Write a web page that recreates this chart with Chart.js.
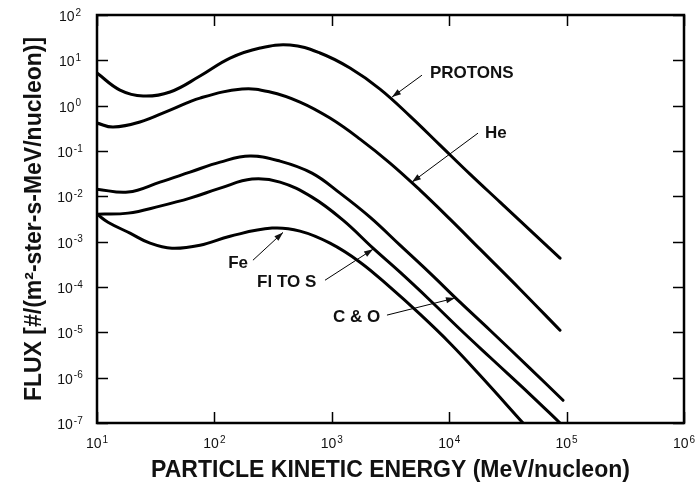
<!DOCTYPE html>
<html lang="en">
<head>
    <meta charset="UTF-8">
    <title>Particle Flux vs Kinetic Energy</title>
    <style>
        body {
            margin: 0;
            background: #fff;
        }
        #wrap {
            width: 699px;
            height: 487px;
        }
    </style>
    <script src="https://cdn.jsdelivr.net/npm/chart.js"></script>
</head>
<body>

<div id="wrap"><canvas id="fluxChart"></canvas></div>

<script>
    // Energy (MeV/nucleon) and flux
    const protonE = [10, 15.7, 24.7, 41.9, 75.4, 136, 245, 441, 793, 1429, 2574, 4636, 8350, 15040, 27090, 48770, 87900];
    const protonF = [5.24, 2.21, 1.63, 2.0, 4.5, 11.2, 18.7, 21.8, 14.5, 6.76, 2.32, 0.589, 0.135, 0.0309, 7.45e-3, 1.79e-3, 4.32e-4];

    const heE = [10, 13.7, 23.2, 41.9, 75.4, 172, 298, 536, 965, 1739, 3131, 5639, 10160, 18300, 40100, 87900];
    const heF = [0.413, 0.337, 0.435, 0.8, 1.47, 2.32, 2.0, 1.2, 0.532, 0.183, 0.0541, 0.0137, 3.14e-3, 6.83e-4, 8.94e-5, 1.11e-5];

    const coE = [10, 18.4, 34.4, 62, 112, 201, 362, 678, 1175, 2115, 3810, 6862, 12360, 22260, 48770, 93200];
    const coF = [0.0144, 0.0124, 0.0206, 0.0342, 0.0569, 0.0772, 0.0598, 0.0325, 0.01176, 3.47e-3, 8.37e-4, 2.02e-4, 4.62e-5, 1.11e-5, 1.61e-6, 3.17e-7];

    const flsE = [10, 18.4, 34.4, 62, 112, 209, 362, 678, 1246, 2244, 3810, 6862, 12360, 22260, 48770, 87900];
    const flsF = [4.05e-3, 4.26e-3, 6.08e-3, 9.12e-3, 0.0152, 0.024, 0.0206, 9.6e-3, 2.98e-3, 7.19e-4, 2.12e-4, 5.11e-5, 1.17e-5, 2.82e-6, 4.3e-7, 1e-7];

    const feE = [10, 12.4, 19.1, 28.3, 43.5, 75.4, 136, 310, 536, 965, 1739, 3131, 5639, 10160, 18300, 42530];
    const feF = [4.05e-3, 2.69e-3, 1.54e-3, 9.27e-4, 7.19e-4, 8.37e-4, 1.32e-3, 1.99e-3, 1.71e-3, 9.27e-4, 3.53e-4, 9.9e-5, 2.51e-5, 5.75e-6, 1.13e-6, 1e-7];

    // Decade ticks and their exponent labels
    const xTicks = [1e1, 1e2, 1e3, 1e4, 1e5, 1e6];
    const xExps = ['1', '2', '3', '4', '5', '6'];
    const yTicks = [1e2, 1e1, 1e0, 1e-1, 1e-2, 1e-3, 1e-4, 1e-5, 1e-6, 1e-7];
    const yExps = ['2', '1', '0', '-1', '-2', '-3', '-4', '-5', '-6', '-7'];

    // Curve labels with leader arrows (energy, flux)
    const notes = [
        { text: 'PROTONS', at: [6850, 5.2], from: [5860, 4.7], to: [3260, 1.55] },
        { text: 'He', at: [20200, 0.248], from: [17600, 0.248], to: [4820, 0.0206] },
        { text: 'C & O', at: [1024, 2.15e-5], from: [2950, 2.4e-5], to: [11200, 5.7e-5] },
        { text: 'Fl TO S', at: [231, 1.28e-4], from: [875, 1.41e-4], to: [2245, 6.8e-4] },
        { text: 'Fe', at: [131, 3.35e-4], from: [213, 3.9e-4], to: [384, 1.6e-3] }
    ];

    const FONT = '"Liberation Sans", Arial, Helvetica, sans-serif';

    function toPoints(xs, ys) {
        return xs.map((x, i) => ({ x: x, y: ys[i] }));
    }

    function curve(label, xs, ys) {
        return {
            label: label,
            data: toPoints(xs, ys),
            borderColor: '#000',
            borderWidth: 3,
            borderCapStyle: 'round',
            borderJoinStyle: 'round',
            pointRadius: 0,
            fill: false,
            tension: 0.4
        };
    }

    function drawPow(ctx, exp, cx, cy) {
        ctx.font = '14px ' + FONT;
        const bw = ctx.measureText('10').width;
        ctx.font = '10px ' + FONT;
        const ew = ctx.measureText(exp).width;
        const left = cx - (bw + ew + 1) / 2;
        ctx.textAlign = 'left';
        ctx.textBaseline = 'middle';
        ctx.font = '14px ' + FONT;
        ctx.fillText('10', left, cy + 2);
        ctx.font = '10px ' + FONT;
        ctx.fillText(exp, left + bw + 1, cy - 2);
    }

    // Frame, inward ticks, tick labels and arrow notes
    const decorPlugin = {
        id: 'decor',
        afterDraw(chart) {
            const ctx = chart.ctx;
            const a = chart.chartArea;
            const xs = chart.scales.x;
            const ys = chart.scales.y;
            const tl = 11;
            ctx.save();
            ctx.strokeStyle = '#000';
            ctx.lineWidth = 1.5;
            ctx.beginPath();
            xTicks.forEach(v => {
                const px = Math.round(xs.getPixelForValue(v)) + 0.5;
                ctx.moveTo(px, a.bottom); ctx.lineTo(px, a.bottom - tl);
                ctx.moveTo(px, a.top); ctx.lineTo(px, a.top + tl);
            });
            yTicks.forEach(v => {
                const py = Math.round(ys.getPixelForValue(v)) + 0.5;
                ctx.moveTo(a.left, py); ctx.lineTo(a.left + tl, py);
                ctx.moveTo(a.right, py); ctx.lineTo(a.right - tl, py);
            });
            ctx.stroke();

            ctx.lineWidth = 2.5;
            ctx.strokeRect(a.left, a.top, a.right - a.left, a.bottom - a.top);

            ctx.fillStyle = '#111';
            xTicks.forEach((v, i) => drawPow(ctx, xExps[i], xs.getPixelForValue(v), a.bottom + 19));
            yTicks.forEach((v, i) => drawPow(ctx, yExps[i], a.left - 27, ys.getPixelForValue(v)));

            // notes
            ctx.lineWidth = 1;
            ctx.font = 'bold 17px ' + FONT;
            ctx.textAlign = 'left';
            ctx.textBaseline = 'middle';
            notes.forEach(n => {
                const tx = xs.getPixelForValue(n.at[0]);
                const ty = ys.getPixelForValue(n.at[1]);
                const fx = xs.getPixelForValue(n.from[0]);
                const fy = ys.getPixelForValue(n.from[1]);
                const px = xs.getPixelForValue(n.to[0]);
                const py = ys.getPixelForValue(n.to[1]);
                ctx.fillText(n.text, tx, ty);
                ctx.beginPath();
                ctx.moveTo(fx, fy);
                ctx.lineTo(px, py);
                ctx.stroke();
                const ang = Math.atan2(py - fy, px - fx);
                const len = 9, hw = 3;
                ctx.beginPath();
                ctx.moveTo(px, py);
                ctx.lineTo(px - len * Math.cos(ang) + hw * Math.sin(ang), py - len * Math.sin(ang) - hw * Math.cos(ang));
                ctx.lineTo(px - len * Math.cos(ang) - hw * Math.sin(ang), py - len * Math.sin(ang) + hw * Math.cos(ang));
                ctx.closePath();
                ctx.fill();
            });
            ctx.restore();
        }
    };

    const ctx = document.getElementById('fluxChart').getContext('2d');
    const fluxChart = new Chart(ctx, {
        type: 'line',
        data: {
            datasets: [
                curve('PROTONS', protonE, protonF),
                curve('He', heE, heF),
                curve('C & O', coE, coF),
                curve('Fl TO S', flsE, flsF),
                curve('Fe', feE, feF)
            ]
        },
        options: {
            responsive: true,
            maintainAspectRatio: false,
            animation: false,
            layout: { padding: { top: 15, right: 15, left: 0, bottom: 0 } },
            plugins: {
                legend: { display: false },
                tooltip: { enabled: false }
            },
            scales: {
                x: {
                    type: 'logarithmic',
                    min: 10,
                    max: 1e6,
                    afterBuildTicks: s => { s.ticks = xTicks.map(v => ({ value: v })); },
                    afterFit: s => { s.height = 64; },
                    ticks: { display: false },
                    grid: { display: false },
                    border: { display: false },
                    title: {
                        display: true,
                        text: 'PARTICLE KINETIC ENERGY (MeV/nucleon)',
                        color: '#111',
                        font: { family: FONT, size: 23, weight: 'bold' },
                        padding: { top: 0, bottom: 3 }
                    }
                },
                y: {
                    type: 'logarithmic',
                    min: 1e-7,
                    max: 100,
                    afterBuildTicks: s => { s.ticks = yTicks.map(v => ({ value: v })); },
                    afterFit: s => { s.width = 97; },
                    ticks: { display: false },
                    grid: { display: false },
                    border: { display: false },
                    title: {
                        display: true,
                        text: 'FLUX [#/(m²-ster-s-MeV/nucleon)]',
                        color: '#111',
                        font: { family: FONT, size: 23, weight: 'bold' },
                        padding: { top: 21, bottom: 0 }
                    }
                }
            }
        },
        plugins: [decorPlugin]
    });
</script>

</body>
</html>
